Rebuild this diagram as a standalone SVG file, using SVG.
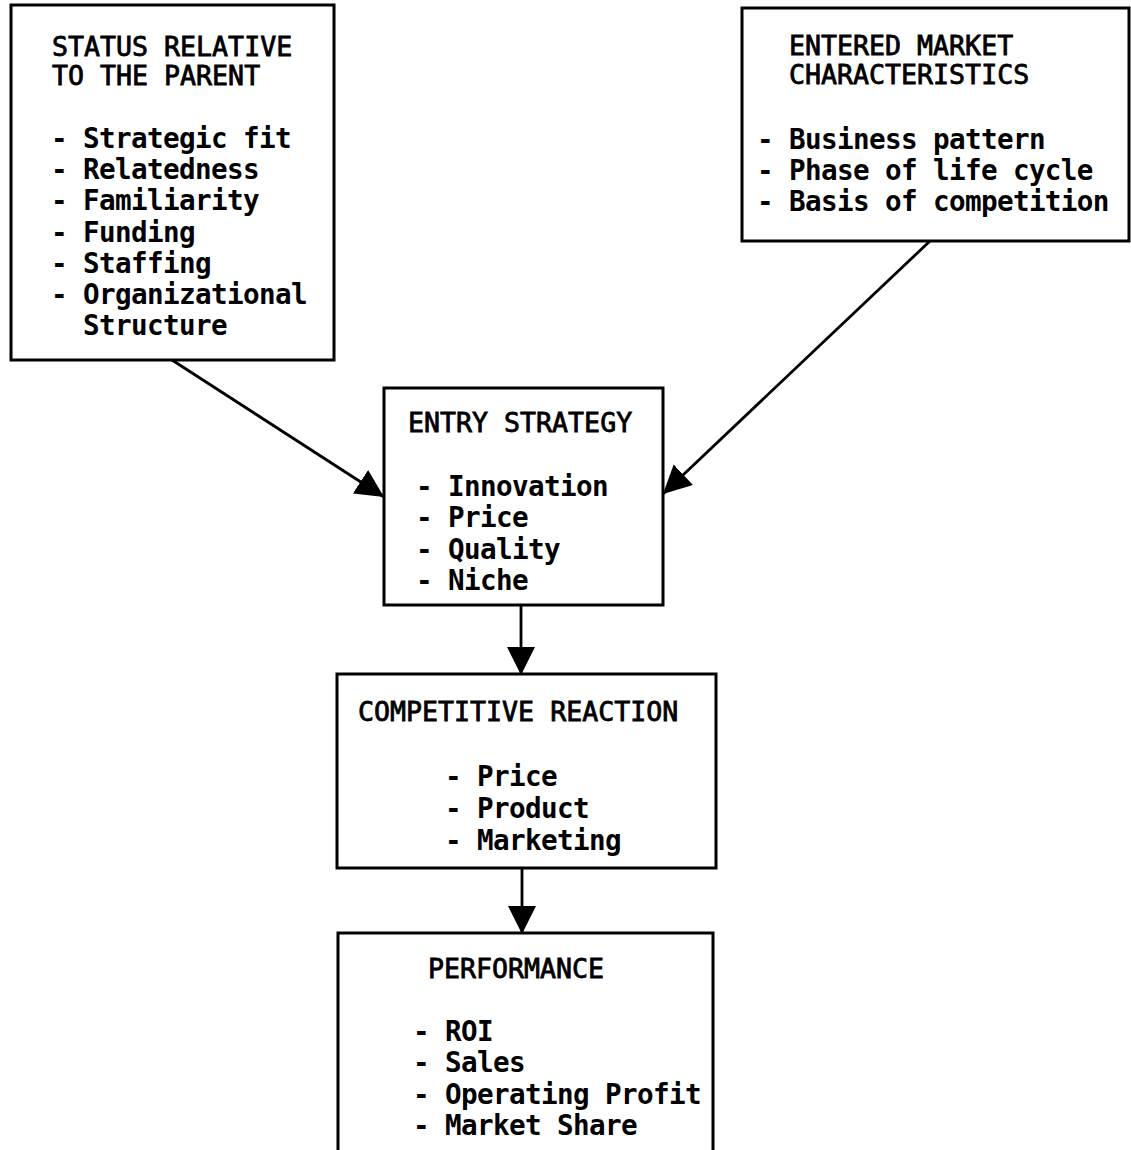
<svg xmlns="http://www.w3.org/2000/svg" width="1131" height="1150" viewBox="0 0 1131 1150">
  <style>
    .box { fill: #ffffff; stroke: #000000; stroke-width: 3; }
    .head { font-family: "DejaVu Sans Mono", "Liberation Mono", monospace; font-size: 26.6px; font-weight: normal; fill: #000; stroke: #000; stroke-width: 0.8; }
    .item { font-family: "DejaVu Sans Mono", "Liberation Mono", monospace; font-size: 27.6px; letter-spacing: -0.62px; font-weight: bold; fill: #000; }
    .wire { fill: none; stroke: #000000; stroke-width: 2.8; }
  </style>
  <defs>
    <marker id="tri" markerUnits="userSpaceOnUse" markerWidth="30" markerHeight="30" refX="28" refY="14" orient="auto">
      <path d="M0,0 L28,14 L0,28 Z" fill="#000000"/>
    </marker>
  </defs>
  <rect width="1131" height="1150" fill="#ffffff"/>

  <!-- status relative to the parent -->
  <g id="status-parent">
    <rect class="box" x="11" y="5" width="323" height="355"/>
    <text class="head" x="52" y="56">STATUS RELATIVE</text>
    <text class="head" x="52" y="85">TO THE PARENT</text>
    <text class="item" x="51" y="148">- Strategic fit</text>
    <text class="item" x="51" y="179">- Relatedness</text>
    <text class="item" x="51" y="210">- Familiarity</text>
    <text class="item" x="51" y="242">- Funding</text>
    <text class="item" x="51" y="273">- Staffing</text>
    <text class="item" x="51" y="304">- Organizational</text>
    <text class="item" x="83" y="335">Structure</text>
  </g>

  <!-- entered market characteristics -->
  <g id="market">
    <rect class="box" x="742" y="8" width="387" height="233"/>
    <text class="head" x="789" y="55">ENTERED MARKET</text>
    <text class="head" x="789" y="84">CHARACTERISTICS</text>
    <text class="item" x="757" y="149">- Business pattern</text>
    <text class="item" x="757" y="180">- Phase of life cycle</text>
    <text class="item" x="757" y="211">- Basis of competition</text>
  </g>

  <!-- entry strategy -->
  <g id="entry-strategy">
    <rect class="box" x="384" y="388" width="279" height="217"/>
    <text class="head" x="408" y="432">ENTRY STRATEGY</text>
    <text class="item" x="416" y="496">- Innovation</text>
    <text class="item" x="416" y="527">- Price</text>
    <text class="item" x="416" y="559">- Quality</text>
    <text class="item" x="416" y="590">- Niche</text>
  </g>

  <!-- competitive reaction -->
  <g id="competitive-reaction">
    <rect class="box" x="337" y="674" width="379" height="194"/>
    <text class="head" x="358" y="721">COMPETITIVE REACTION</text>
    <text class="item" x="445" y="786">- Price</text>
    <text class="item" x="445" y="818">- Product</text>
    <text class="item" x="445" y="850">- Marketing</text>
  </g>

  <!-- performance -->
  <g id="performance">
    <rect class="box" x="338" y="933" width="375" height="230"/>
    <text class="head" x="428" y="978">PERFORMANCE</text>
    <text class="item" x="413" y="1041">- ROI</text>
    <text class="item" x="413" y="1072">- Sales</text>
    <text class="item" x="413" y="1104">- Operating Profit</text>
    <text class="item" x="413" y="1135">- Market Share</text>
  </g>

  <!-- connectors -->
  <g id="connectors">
    <line class="wire" x1="172" y1="360" x2="384" y2="497" marker-end="url(#tri)"/>
    <line class="wire" x1="930" y1="241" x2="663" y2="494" marker-end="url(#tri)"/>
    <line class="wire" x1="521" y1="605" x2="521" y2="675" marker-end="url(#tri)"/>
    <line class="wire" x1="522" y1="868" x2="522" y2="934" marker-end="url(#tri)"/>
  </g>
</svg>
